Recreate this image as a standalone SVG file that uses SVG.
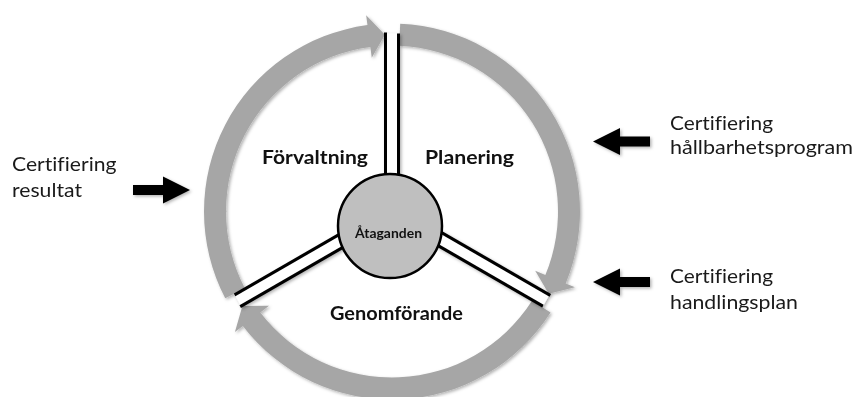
<svg xmlns="http://www.w3.org/2000/svg" xmlns:xlink="http://www.w3.org/1999/xlink" width="854" height="397" viewBox="0 0 854 397">
<style>
.ring{fill:#a6a6a6}
.spk-line{stroke:#000;stroke-width:3;fill:none}
.spk-fill{fill:#fff}
text{font-variant-ligatures:none;font-feature-settings:"liga" 0}
.lbl{font-family:Lato,"Open Sans","Liberation Sans",sans-serif;font-weight:bold;font-size:19.5px;fill:#111}
.cen{font-family:Lato,"Open Sans","Liberation Sans",sans-serif;font-weight:bold;font-size:13px;fill:#111}
.inp{font-family:Lato,"Open Sans","Liberation Sans",sans-serif;font-size:20px;fill:#1a1a1a}
.blk{fill:#000}
</style>
<defs>
<filter id="sh" x="-10%" y="-10%" width="120%" height="120%">
<feDropShadow dx="1.5" dy="1.5" stdDeviation="1.5" flood-color="#000" flood-opacity="0.3"/>
</filter>
<path id="seg" class="ring" d="M8.20,-187.82 A188,188 0 0 1 173.69,71.94 L182.93,75.77 L156.71,82.28 L143.20,59.32 L153.36,63.53 A166,166 0 0 0 7.24,-165.84 Z"/>
<g id="spoke">
<rect class="spk-fill" x="-6.5" y="-178" width="13" height="178"/>
<line class="spk-line" x1="-6.5" y1="0" x2="-6.5" y2="-179"/>
<line class="spk-line" x1="6.5" y1="0" x2="6.5" y2="-178"/>
</g>
<path id="blkarrow" class="blk" d="M0,0 L-27,-13.5 L-27,-5 L-57,-5 L-57,5 L-27,5 L-27,13.5 Z"/>
</defs>
<rect width="854" height="397" fill="#fff"/>

<g id="cycle" filter="url(#sh)">
<g id="arc-planering" transform="translate(392,211.5)"><use xlink:href="#seg"/></g>
<g id="arc-genomforande" transform="translate(392,211.5) rotate(120)"><use xlink:href="#seg"/></g>
<g id="arc-forvaltning" transform="translate(392,211.5) rotate(240)"><use xlink:href="#seg"/></g>
</g>

<g id="spokes" filter="url(#sh)">
<g transform="translate(392,211.5)"><use xlink:href="#spoke"/></g>
<g transform="translate(392,211.5) rotate(120)"><use xlink:href="#spoke"/></g>
<g transform="translate(392,211.5) rotate(240)"><use xlink:href="#spoke"/></g>
</g>

<g id="node-ataganden">
<circle cx="390" cy="226" r="52" fill="#bfbfbf" stroke="#000" stroke-width="2.5"/>
<text class="cen" x="355" y="238" textLength="67" lengthAdjust="spacingAndGlyphs">Åtaganden</text>
</g>

<g id="node-forvaltning"><text class="lbl" x="262" y="164" textLength="106" lengthAdjust="spacingAndGlyphs">Förvaltning</text></g>
<g id="node-planering"><text class="lbl" x="425" y="163.5" textLength="89" lengthAdjust="spacingAndGlyphs">Planering</text></g>
<g id="node-genomforande"><text class="lbl" x="330" y="319.5" textLength="133" lengthAdjust="spacingAndGlyphs">Genomförande</text></g>

<g id="node-cert-resultat">
<text class="inp" x="12" y="170.5" textLength="104.5" lengthAdjust="spacingAndGlyphs">Certifiering</text>
<text class="inp" x="12" y="196.5" textLength="70" lengthAdjust="spacingAndGlyphs">resultat</text>
</g>
<g id="node-cert-hallbarhet">
<text class="inp" x="670" y="130" textLength="103" lengthAdjust="spacingAndGlyphs">Certifiering</text>
<text class="inp" x="670" y="154" textLength="183" lengthAdjust="spacingAndGlyphs">hållbarhetsprogram</text>
</g>
<g id="node-cert-handlingsplan">
<text class="inp" x="670" y="283" textLength="103" lengthAdjust="spacingAndGlyphs">Certifiering</text>
<text class="inp" x="670" y="309" textLength="128" lengthAdjust="spacingAndGlyphs">handlingsplan</text>
</g>

<g id="connectors" filter="url(#sh)">
<use xlink:href="#blkarrow" transform="translate(190,190)"/>
<use xlink:href="#blkarrow" transform="translate(593,141.5) scale(-1,1)"/>
<use xlink:href="#blkarrow" transform="translate(593,282) scale(-1,1)"/>
</g>
</svg>
